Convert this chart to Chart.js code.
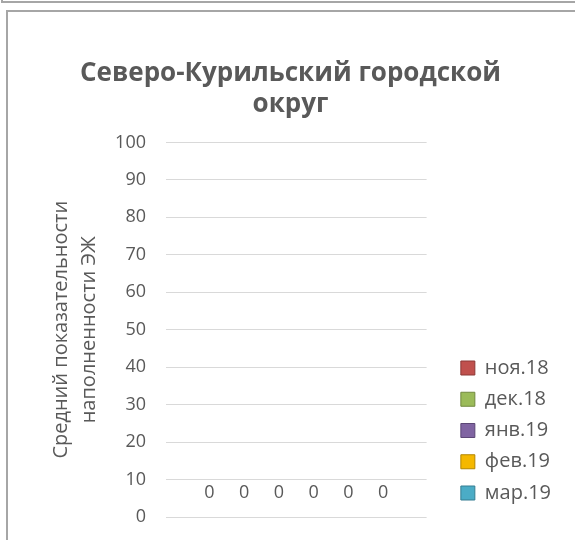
<!DOCTYPE html>
<html>
<head>
<meta charset="utf-8">
<script src="https://cdn.jsdelivr.net/npm/chart.js@4.4.1/dist/chart.umd.min.js"></script>
<style>
    html, body { margin: 0; padding: 0; background: #fff; overflow: hidden; }
    #wrap { position: relative; width: 575px; height: 540px; overflow: hidden; }
    .frame { position: absolute; border: 2px solid #a6a6a6; background: transparent; }
    canvas { position: absolute; left: 0; top: 0; }
</style>
</head>
<body>
<div id="wrap">
    <div class="frame" style="left:1px; top:-39px; width:800px; height:38px;"></div>
    <div class="frame" style="left:6px; top:10px; width:800px; height:800px;"></div>
    <canvas id="grafico" width="575" height="540"></canvas>
</div>
<script>
const categorias = ['Северо-Курильский городской округ'];
const meses = ['окт.18', 'ноя.18', 'дек.18', 'янв.19', 'фев.19', 'мар.19'];
const valores = [[0], [0], [0], [0], [0], [0]];
const colores = ['#4F81BD', '#C0504D', '#9BBB59', '#8064A2', '#F5B800', '#4BACC6'];
const bordes = ['#385D8A', '#8C3836', '#71893F', '#5C4776', '#B38600', '#357D91'];
const ticksY = [0, 10, 20, 30, 40, 50, 60, 70, 80, 90, 100];

const fuente = "'Open Sans', 'DejaVu Sans', sans-serif";
const gris = '#595959';

// etiquetas de valor encima de cada barra
const etiquetas = {
    id: 'etiquetas',
    afterDatasetsDraw(chart) {
        const ctx = chart.ctx;
        ctx.save();
        ctx.font = '18px ' + fuente;
        ctx.fillStyle = gris;
        ctx.textAlign = 'center';
        ctx.textBaseline = 'middle';
        chart.data.datasets.forEach((ds, i) => {
            chart.getDatasetMeta(i).data.forEach((bar, j) => {
                ctx.fillText(String(ds.data[j]), bar.x, bar.y - 24);
            });
        });
        ctx.restore();
    }
};

// mover la leyenda como en el original
const moverLeyenda = {
    id: 'moverLeyenda',
    afterLayout(chart) {
        const l = chart.legend;
        l.left += 23; l.right += 23;
        l.top += 143; l.bottom += 143;
    }
};

const ctx = document.getElementById('grafico').getContext('2d');
new Chart(ctx, {
    type: 'bar',
    data: {
        labels: categorias,
        datasets: meses.map((m, i) => ({
            label: m,
            data: valores[i],
            backgroundColor: colores[i],
            borderColor: bordes[i],
            borderWidth: 1
        }))
    },
    options: {
        responsive: false,
        animation: false,
        layout: { padding: { left: 43, right: 37, top: 58, bottom: 23 } },
        datasets: { bar: { categoryPercentage: 0.8, barPercentage: 1 } },
        plugins: {
            title: {
                display: true,
                text: ['Северо-Курильский городской', 'округ'],
                font: { family: fuente, size: 26, weight: 'bold', lineHeight: 1.2 },
                color: gris,
                padding: { top: 0, bottom: 22 }
            },
            legend: {
                position: 'right',
                labels: {
                    font: { family: fuente, size: 20 },
                    color: gris,
                    boxWidth: 14,
                    boxHeight: 14,
                    padding: 11.25,
                    filter: item => item.text !== 'окт.18'
                }
            },
            tooltip: { enabled: false }
        },
        scales: {
            x: { display: false },
            y: {
                min: 0,
                max: 100,
                afterBuildTicks: s => { s.ticks = ticksY.map(v => ({ value: v })); },
                ticks: { font: { family: fuente, size: 18 }, color: gris, padding: 0 },
                grid: { color: '#d9d9d9', drawTicks: true, tickLength: 20, tickColor: 'rgba(0,0,0,0)' },
                border: { display: false },
                title: {
                    display: true,
                    text: ['Средний показательности', 'наполненности ЭЖ'],
                    font: { family: fuente, size: 20, lineHeight: 1.4 },
                    color: gris
                },
                afterFit: s => { s.width = 123; }
            }
        }
    },
    plugins: [etiquetas, moverLeyenda]
});
</script>
</body>
</html>
